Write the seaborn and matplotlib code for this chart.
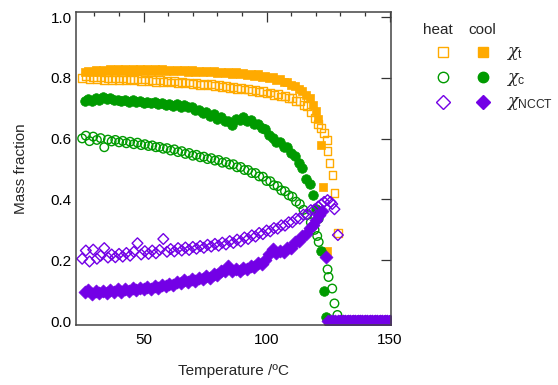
import matplotlib
matplotlib.use("Agg")
import matplotlib.pyplot as plt
from matplotlib.lines import Line2D
from matplotlib.ticker import MultipleLocator
import seaborn as sns

# heating run, common temperature grid (degC)
T_heat = [25.0, 26.5, 28.0, 29.5, 31.0, 32.5, 34.0, 35.5, 37.0, 38.5, 40.0, 41.5, 43.0, 44.5, 46.0, 47.5,
          49.0, 50.5, 52.0, 53.5, 55.0, 56.5, 58.0, 59.5, 61.0, 62.5, 64.0, 65.5, 67.0, 68.5, 70.0, 71.5,
          73.0, 74.5, 76.0, 77.5, 79.0, 80.5, 82.0, 83.5, 85.0, 86.5, 88.0, 89.5, 91.0, 92.5, 94.0, 95.5,
          97.0, 98.5, 100.0, 101.5, 103.0, 104.5, 106.0, 107.5, 109.0, 110.5, 112.0, 113.5, 115.0, 116.5,
          118.0, 119.5]
xt_heat = [0.800, 0.806, 0.797, 0.804, 0.796, 0.803, 0.794, 0.801, 0.793, 0.800, 0.794, 0.799, 0.794, 0.797,
           0.792, 0.797, 0.791, 0.795, 0.790, 0.793, 0.788, 0.792, 0.787, 0.790, 0.785, 0.789, 0.784, 0.787,
           0.782, 0.785, 0.780, 0.783, 0.778, 0.781, 0.776, 0.779, 0.773, 0.777, 0.770, 0.774, 0.768, 0.771,
           0.765, 0.768, 0.762, 0.764, 0.758, 0.761, 0.754, 0.756, 0.749, 0.752, 0.744, 0.747, 0.739, 0.741,
           0.733, 0.734, 0.724, 0.723, 0.711, 0.707, 0.688, 0.668]
xc_heat = [0.601, 0.610, 0.592, 0.607, 0.596, 0.602, 0.572, 0.597, 0.591, 0.596, 0.588, 0.593, 0.585, 0.590,
           0.582, 0.587, 0.579, 0.582, 0.576, 0.578, 0.572, 0.573, 0.567, 0.569, 0.561, 0.565, 0.556, 0.559,
           0.550, 0.553, 0.544, 0.547, 0.539, 0.541, 0.533, 0.536, 0.528, 0.530, 0.521, 0.523, 0.515, 0.516,
           0.506, 0.507, 0.497, 0.497, 0.487, 0.487, 0.476, 0.475, 0.461, 0.460, 0.447, 0.444, 0.430, 0.427,
           0.414, 0.409, 0.393, 0.385, 0.366, 0.349, 0.325, 0.300]
xn_heat = [0.205, 0.232, 0.196, 0.235, 0.205, 0.215, 0.240, 0.209, 0.219, 0.210, 0.221, 0.212, 0.224, 0.215,
           0.228, 0.256, 0.219, 0.230, 0.221, 0.232, 0.223, 0.234, 0.270, 0.228, 0.237, 0.229, 0.240, 0.232,
           0.242, 0.234, 0.244, 0.238, 0.247, 0.241, 0.251, 0.245, 0.254, 0.248, 0.258, 0.252, 0.263, 0.257,
           0.268, 0.262, 0.275, 0.270, 0.282, 0.278, 0.290, 0.286, 0.298, 0.295, 0.306, 0.304, 0.315, 0.314,
           0.325, 0.325, 0.337, 0.337, 0.350, 0.351, 0.365, 0.367]

# heating run, melting region and zero plateau
T_heat_zero = [130, 131, 132, 133, 134, 135, 136, 137, 138, 139, 140, 141, 142, 143, 144, 145, 146, 147,
               148, 149, 150]
zero_heat = [0.0, 0.0, 0.0, 0.0, 0.0, 0.0, 0.0, 0.0, 0.0, 0.0, 0.0, 0.0, 0.0, 0.0, 0.0, 0.0, 0.0, 0.0,
             0.0, 0.0, 0.0]
T_xt_heat_end = [121.0, 122.0, 123.2, 124.4, 124.8, 125.6, 126.8, 127.6, 129.0]
xt_heat_end = [0.648, 0.635, 0.618, 0.595, 0.560, 0.520, 0.480, 0.420, 0.290]
T_xc_heat_end = [120.6, 121.2, 124.8, 125.2, 126.7, 127.6, 128.8]
xc_heat_end = [0.280, 0.260, 0.170, 0.145, 0.107, 0.058, 0.020]
T_xn_heat_end = [121.0, 122.2, 123.4, 124.8, 126.0, 126.7, 127.6, 129.0]
xn_heat_end = [0.377, 0.384, 0.392, 0.398, 0.392, 0.385, 0.368, 0.283]

# cooling run, common temperature grid (degC)
T_cool = [26.0, 27.5, 29.0, 30.5, 32.0, 33.5, 35.0, 36.5, 38.0, 39.5, 41.0, 42.5, 44.0, 45.5, 47.0, 48.5,
          50.0, 51.5, 53.0, 54.5, 56.0, 57.5, 59.0, 60.5, 62.0, 63.5, 65.0, 66.5, 68.0, 69.5, 71.0, 72.5,
          74.0, 75.5, 77.0, 78.5, 80.0, 81.5, 83.0, 84.5, 86.0, 87.5, 89.0, 90.5, 92.0, 93.5, 95.0, 96.5,
          98.0, 99.5, 101.0, 102.5, 104.0, 105.5, 107.0, 108.5, 110.0, 111.5, 113.0, 114.5, 116.0, 117.5,
          119.0]
xt_cool = [0.819, 0.824, 0.821, 0.826, 0.821, 0.827, 0.822, 0.828, 0.823, 0.828, 0.824, 0.829, 0.824, 0.829,
           0.824, 0.829, 0.824, 0.829, 0.824, 0.828, 0.823, 0.828, 0.823, 0.827, 0.822, 0.827, 0.822, 0.826,
           0.821, 0.825, 0.820, 0.824, 0.819, 0.823, 0.818, 0.822, 0.816, 0.821, 0.815, 0.819, 0.814, 0.818,
           0.812, 0.816, 0.810, 0.814, 0.808, 0.812, 0.804, 0.807, 0.800, 0.802, 0.794, 0.795, 0.786, 0.787,
           0.776, 0.774, 0.762, 0.758, 0.743, 0.735, 0.711]
xc_cool = [0.724, 0.732, 0.725, 0.734, 0.727, 0.736, 0.731, 0.733, 0.726, 0.729, 0.723, 0.727, 0.722, 0.726,
           0.720, 0.724, 0.719, 0.722, 0.716, 0.721, 0.714, 0.719, 0.712, 0.715, 0.709, 0.713, 0.705, 0.710,
           0.703, 0.704, 0.695, 0.695, 0.684, 0.687, 0.676, 0.680, 0.666, 0.671, 0.657, 0.659, 0.645, 0.665,
           0.663, 0.671, 0.659, 0.661, 0.647, 0.649, 0.634, 0.632, 0.612, 0.604, 0.589, 0.588, 0.574, 0.573,
           0.553, 0.544, 0.520, 0.505, 0.468, 0.450, 0.416]
xn_cool = [0.094, 0.101, 0.090, 0.098, 0.092, 0.100, 0.093, 0.102, 0.095, 0.104, 0.097, 0.106, 0.099, 0.108,
           0.101, 0.110, 0.104, 0.112, 0.106, 0.115, 0.108, 0.118, 0.114, 0.123, 0.119, 0.130, 0.124, 0.134,
           0.127, 0.137, 0.132, 0.142, 0.137, 0.149, 0.143, 0.155, 0.150, 0.164, 0.164, 0.180, 0.166, 0.170,
           0.164, 0.175, 0.170, 0.182, 0.178, 0.191, 0.187, 0.200, 0.220, 0.236, 0.223, 0.232, 0.228, 0.242,
           0.242, 0.259, 0.262, 0.281, 0.285, 0.307, 0.315]

# cooling run, crystallisation region and zero plateau
T_cool_zero = [125, 126, 127, 128, 129, 130, 131, 132, 133, 134, 135, 136, 137, 138, 139, 140, 141, 142,
               143, 144, 145, 146, 147, 148, 149, 150]
zero_cool = [0.0, 0.0, 0.0, 0.0, 0.0, 0.0, 0.0, 0.0, 0.0, 0.0, 0.0, 0.0, 0.0, 0.0, 0.0, 0.0, 0.0, 0.0,
             0.0, 0.0, 0.0, 0.0, 0.0, 0.0, 0.0, 0.0]
T_xt_cool_end = [120.0, 121.0, 122.0, 123.0, 124.6]
xt_cool_end = [0.690, 0.665, 0.580, 0.440, 0.230]
T_xc_cool_end = [119.9, 121.0, 122.0, 123.2, 124.2]
xc_cool_end = [0.370, 0.340, 0.230, 0.100, 0.012]
T_xn_cool_end = [120.2, 121.2, 122.4, 124.1]
xn_cool_end = [0.333, 0.348, 0.362, 0.210]

orange = '#FFAA00'
green = '#009A00'
purple = '#7300E6'

sns.set_style('white')
plt.rcParams['font.family'] = ['Liberation Sans', 'DejaVu Sans']
plt.rcParams['mathtext.fontset'] = 'custom'
plt.rcParams['mathtext.rm'] = 'Liberation Sans'
plt.rcParams['mathtext.it'] = 'DejaVu Serif:italic'

fig = plt.figure(figsize=(5.58, 3.85), dpi=100)
ax = fig.add_axes([76 / 558, 60 / 385, 315 / 558, 313 / 385])


def draw(T, v, marker, size, color, filled):
    if filled:
        sns.scatterplot(x=T, y=v, ax=ax, marker=marker, s=size, color=color, edgecolor=color, linewidth=0.5)
    else:
        sns.scatterplot(x=T, y=v, ax=ax, marker=marker, s=size, facecolor='none', edgecolor=color,
                        linewidth=1.0)


draw(T_heat + T_xt_heat_end + T_heat_zero, xt_heat + xt_heat_end + zero_heat, 's', 32, orange, False)
draw(T_cool + T_xt_cool_end + T_cool_zero, xt_cool + xt_cool_end + zero_cool, 's', 36, orange, True)
draw(T_heat + T_xc_heat_end + T_heat_zero, xc_heat + xc_heat_end + zero_heat, 'o', 38, green, False)
draw(T_cool + T_xc_cool_end + T_cool_zero, xc_cool + xc_cool_end + zero_cool, 'o', 48, green, True)
draw(T_heat + T_xn_heat_end + T_heat_zero, xn_heat + xn_heat_end + zero_heat, 'D', 30, purple, False)
draw(T_cool + T_xn_cool_end + T_cool_zero, xn_cool + xn_cool_end + zero_cool, 'D', 44, purple, True)

ax.set_xlim(22.5, 150.6)
ax.set_ylim(-0.013, 1.017)
ax.xaxis.set_major_locator(MultipleLocator(50))
ax.xaxis.set_minor_locator(MultipleLocator(10))
ax.yaxis.set_major_locator(MultipleLocator(0.2))
ax.yaxis.set_major_formatter(plt.FormatStrFormatter('%.1f'))
ax.tick_params(which='both', direction='in', top=True, right=True, color='#333333',
               labelsize=11, labelcolor='black')
ax.tick_params(axis='x', which='major', length=7, width=0.9, pad=6)
ax.tick_params(axis='x', which='minor', length=3, width=0.9)
ax.tick_params(axis='y', which='major', length=7, width=0.9, pad=3)
for sp in ax.spines.values():
    sp.set_color('#444444')
    sp.set_linewidth(1.1)
ax.set_xlabel('Temperature /ºC', fontsize=11, labelpad=12)
ax.set_ylabel('Mass fraction', fontsize=11, labelpad=16)
ax.grid(False)

# legend drawn by hand: heat / cool columns
W, H = 558, 385
fig.text(438 / W, 1 - 30 / H, 'heat', ha='center', va='center', fontsize=11)
fig.text(482 / W, 1 - 30 / H, 'cool', ha='center', va='center', fontsize=11)
rows = [('s', orange, r'$\chi_{\mathrm{t}}$', 52, 7),
        ('o', green, r'$\chi_{\mathrm{c}}$', 77, 7.5),
        ('D', purple, r'$\chi_{\mathrm{NCCT}}$', 102, 7)]
for mk, col, lab, yp, ms in rows:
    fig.add_artist(Line2D([443 / W], [1 - yp / H], transform=fig.transFigure, marker=mk, ms=ms,
                          mfc='none', mec=col, mew=1.0, ls='none'))
    fig.add_artist(Line2D([483 / W], [1 - yp / H], transform=fig.transFigure, marker=mk, ms=ms,
                          mfc=col, mec=col, mew=1.0, ls='none'))
    fig.text(506 / W, 1 - (yp + 2) / H, lab, ha='left', va='center', fontsize=12.5)

fig.savefig('out.png', dpi=100)
